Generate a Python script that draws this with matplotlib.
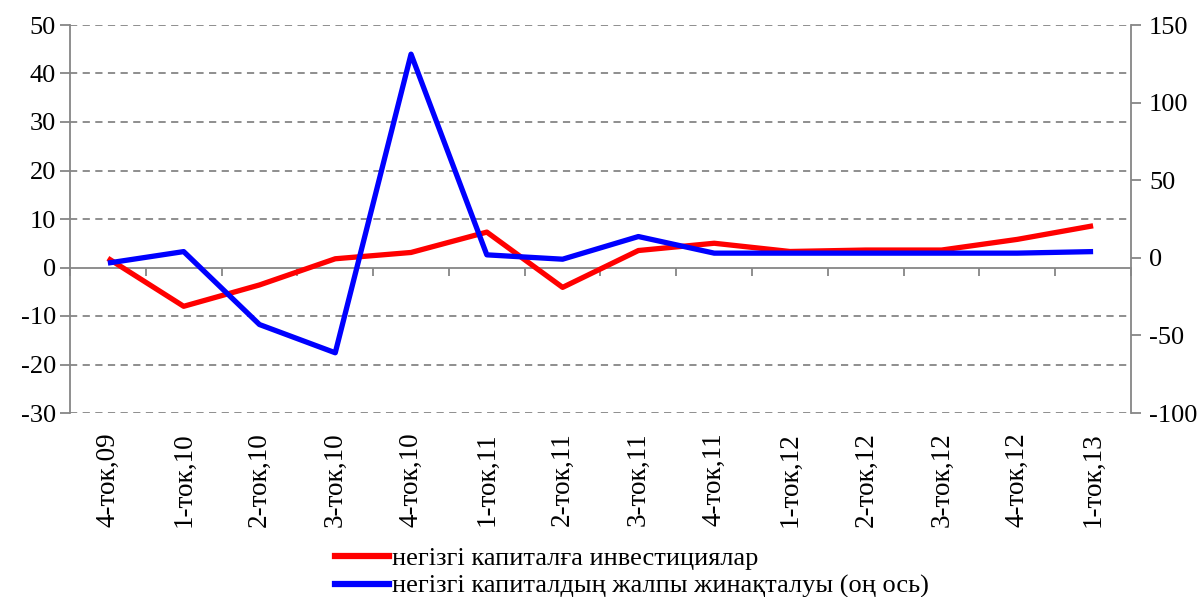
import matplotlib
matplotlib.use("Agg")
import matplotlib.pyplot as plt
from matplotlib.lines import Line2D

categories = ["4-ток,09", "1-ток,10", "2-ток,10", "3-ток,10", "4-ток,10", "1-ток,11", "2-ток,11",
              "3-ток,11", "4-ток,11", "1-ток,12", "2-ток,12", "3-ток,12", "4-ток,12", "1-ток,13"]
invest = [1.9, -8.0, -3.6, 1.8, 3.1, 7.3, -4.1, 3.5, 5.0, 3.3, 3.6, 3.6, 5.8, 8.6]
gross = [-3.4, 4.0, -43.0, -61.2, 131.2, 1.9, -0.9, 13.7, 3.0, 3.0, 3.0, 3.0, 3.0, 4.0]
left_ticks = [-30, -20, -10, 0, 10, 20, 30, 40, 50]
right_ticks = [-100, -50, 0, 50, 100, 150]
label_red = "негізгі капиталға инвестициялар"
label_blue = "негізгі капиталдың жалпы жинақталуы (оң ось)"

plt.rcParams['font.family'] = ['Liberation Serif', 'DejaVu Serif']
grey = "#868686"

fig = plt.figure(figsize=(12, 5.97), dpi=100)
ax = fig.add_axes([70/1200, 1-413/597, (1131-70)/1200, (413-25)/597])
ax2 = ax.twinx()

x = list(range(len(categories)))
ax.set_xlim(-0.5, len(categories) - 0.5)
ax.set_ylim(-30, 50)
ax2.set_ylim(-100, 150)

for v in left_ticks:
    if v != 0:
        ax.axhline(v, color=grey, lw=1.3, ls=(0, (4, 3)), zorder=0)

ax.plot(x, invest, color="#ff0000", lw=3.8, zorder=3, solid_capstyle="butt")
ax2.plot(x, gross, color="#0000ff", lw=3.8, zorder=3, solid_capstyle="butt")

ax.spines["top"].set_visible(False)
ax2.spines["top"].set_visible(False)
ax2.spines["bottom"].set_visible(False)
ax2.spines["left"].set_visible(False)
ax.spines["right"].set_visible(False)
ax.spines["left"].set_color(grey)
ax.spines["left"].set_linewidth(1.3)
ax2.spines["right"].set_color(grey)
ax2.spines["right"].set_linewidth(1.3)
ax.spines["bottom"].set_position(("data", 0))
ax.spines["bottom"].set_color(grey)
ax.spines["bottom"].set_linewidth(1.3)

ax.set_yticks(left_ticks)
ax.set_yticklabels([str(v) for v in left_ticks])
ax2.set_yticks(right_ticks)
ax2.set_yticklabels([str(v) for v in right_ticks])
ax.tick_params(axis="y", direction="out", length=7, width=1.3, color=grey, labelsize=19, pad=3)
ax2.tick_params(axis="y", direction="out", length=7, width=1.3, color=grey, labelsize=19, pad=6)

bounds = [i - 0.5 for i in range(len(categories) + 1)]
ax.set_xticks(bounds)
ax.set_xticklabels([""] * len(bounds))
ax.tick_params(axis="x", direction="out", length=6, width=1.3, color=grey)

sec = ax.secondary_xaxis("bottom")
sec.set_xticks(x)
sec.set_xticklabels(categories, rotation=90, fontsize=19.5)
sec.tick_params(length=0, pad=14)
sec.spines["bottom"].set_visible(False)

handles = [Line2D([], [], color="#ff0000", lw=4.5), Line2D([], [], color="#0000ff", lw=4.5)]
fig.legend(handles, [label_red, label_blue], loc="upper left",
           bbox_to_anchor=(335/1200, 1-547/597), frameon=False, fontsize=19,
           handlelength=2.05, handletextpad=0.12, labelspacing=0.15, borderpad=0,
           borderaxespad=0)

fig.savefig("out.png", dpi=100)
